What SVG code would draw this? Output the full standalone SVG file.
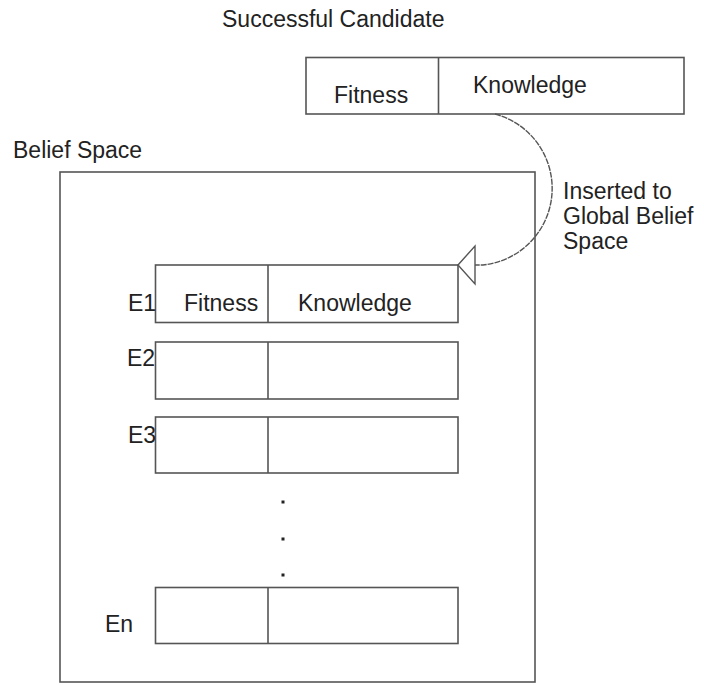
<svg xmlns="http://www.w3.org/2000/svg" width="704" height="685" viewBox="0 0 704 685">
  <style>
    .box { fill: #ffffff; stroke: #555555; stroke-width: 1.6; }
    .div { stroke: #555555; stroke-width: 1.6; }
    .txt { font-family: "Liberation Sans", Arial, sans-serif; font-size: 23px; fill: #222222; }
    .conn { fill: none; stroke: #555555; stroke-width: 1.4; }
  </style>
  <rect width="704" height="685" fill="#ffffff"/>

  <!-- candidate record -->
  <g id="candidate">
    <text class="txt" x="222" y="27">Successful Candidate</text>
    <rect class="box" x="306" y="57.5" width="378" height="56.5"/>
    <line class="div" x1="438.5" y1="57.5" x2="438.5" y2="114"/>
    <text class="txt" x="334" y="103">Fitness</text>
    <text class="txt" x="473" y="93">Knowledge</text>
  </g>

  <!-- belief space container -->
  <g id="belief-space">
    <text class="txt" x="13" y="158">Belief Space</text>
    <rect class="box" x="60" y="172" width="475" height="510"/>
  </g>

  <g id="e1">
    <rect class="box" x="155.5" y="265" width="302.5" height="57.5"/>
    <line class="div" x1="268" y1="265" x2="268" y2="322.5"/>
    <text class="txt" x="128" y="311">E1</text>
    <text class="txt" x="184" y="311">Fitness</text>
    <text class="txt" x="298" y="311">Knowledge</text>
  </g>

  <g id="e2">
    <rect class="box" x="155.5" y="342" width="302.5" height="57"/>
    <line class="div" x1="268" y1="342" x2="268" y2="399"/>
    <text class="txt" x="127" y="366">E2</text>
  </g>

  <g id="e3">
    <rect class="box" x="155.5" y="417" width="302.5" height="56"/>
    <line class="div" x1="268" y1="417" x2="268" y2="473"/>
    <text class="txt" x="128" y="443">E3</text>
  </g>

  <g id="ellipsis" fill="#222222">
    <rect x="281.5" y="500.5" width="3" height="3"/>
    <rect x="281.5" y="537.5" width="3" height="3"/>
    <rect x="281.5" y="573.5" width="3" height="3"/>
  </g>

  <g id="en">
    <rect class="box" x="155.5" y="587.5" width="302.5" height="56"/>
    <line class="div" x1="268" y1="587.5" x2="268" y2="643.5"/>
    <text class="txt" x="105" y="632">En</text>
  </g>

  <!-- insertion connector -->
  <g id="connectors">
    <path class="conn" stroke-dasharray="6 1" d="M495,114 A77,77 0 0 1 483,265 L475,265"/>
    <polygon points="458,265 475,246 475,284" fill="#ffffff" stroke="#555555" stroke-width="1.4" stroke-linejoin="miter"/>
    <text class="txt" x="563" y="199">Inserted to</text>
    <text class="txt" x="563" y="224">Global Belief</text>
    <text class="txt" x="563" y="249">Space</text>
  </g>
</svg>
